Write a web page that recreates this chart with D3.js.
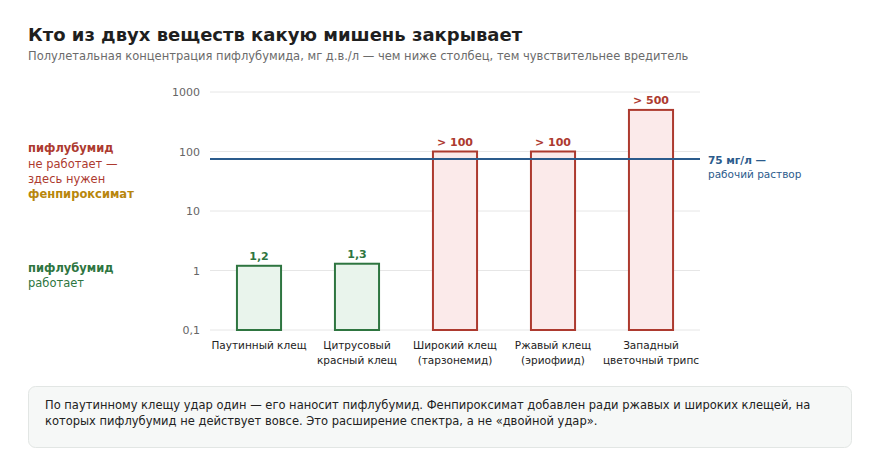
<!DOCTYPE html>
<html>
<head>
<meta charset="utf-8">
<script src="https://cdn.jsdelivr.net/npm/d3@7"></script>
<style>
  body { margin: 0; background: #fff; font-family: "DejaVu Sans", sans-serif; }
</style>
</head>
<body>
<div id="chart"></div>
<script>
// Data
const pests = [
  ["Паутинный клещ"],
  ["Цитрусовый", "красный клещ"],
  ["Широкий клещ", "(тарзонемид)"],
  ["Ржавый клещ", "(эриофиид)"],
  ["Западный", "цветочный трипс"]
];
const lc50 = [1.2, 1.3, 100, 100, 500];
const valueLabels = ["1,2", "1,3", "> 100", "> 100", "> 500"];
const works = [true, true, false, false, false];
const yTicks = [0.1, 1, 10, 100, 1000];
const yTickLabels = ["0,1", "1", "10", "100", "1000"];
const workingDose = 75;

const W = 880, H = 470;
const margin = { top: 92, right: 180, bottom: 140, left: 210 };
const width = W - margin.left - margin.right,
      height = H - margin.top - margin.bottom;

const green = "#2e7540", greenFill = "#e9f4ec";
const red = "#ad3a2f", redFill = "#fbeaea";
const blue = "#2b5b8c";
const gold = "#b8860b";

const svg = d3.select("#chart")
  .append("svg")
    .attr("width", W)
    .attr("height", H);

// Title
svg.append("text")
  .attr("x", 28).attr("y", 41)
  .style("font-size", "18px").style("font-weight", "bold")
  .attr("fill", "#1f1f1f")
  .text("Кто из двух веществ какую мишень закрывает");

svg.append("text")
  .attr("x", 28).attr("y", 60)
  .style("font-size", "11.5px")
  .attr("fill", "#6b6b6b")
  .text("Полулетальная концентрация пифлубумида, мг д.в./л — чем ниже столбец, тем чувствительнее вредитель");

const g = svg.append("g")
  .attr("transform", `translate(${margin.left},${margin.top})`);

// Scales
const x = d3.scaleBand()
  .domain(d3.range(pests.length))
  .range([0, width])
  .paddingInner(0.55)
  .paddingOuter(0.275);

const y = d3.scaleLog()
  .domain([0.1, 1000])
  .range([height, 0]);

// Grid
g.selectAll(".grid")
  .data(yTicks)
  .enter().append("line")
    .attr("x1", 0).attr("x2", width)
    .attr("y1", d => y(d)).attr("y2", d => y(d))
    .attr("stroke", "#e6e6e6")
    .attr("stroke-width", 1);

// Y axis
const yAxis = g.append("g")
  .call(d3.axisLeft(y).tickValues(yTicks).tickFormat((d, i) => yTickLabels[i]).tickSize(0).tickPadding(10));
yAxis.select(".domain").remove();
yAxis.selectAll("text")
  .style("font-family", "DejaVu Sans, sans-serif")
  .style("font-size", "11px")
  .attr("fill", "#666");

// Bars
g.selectAll(".bar")
  .data(lc50)
  .enter().append("rect")
    .attr("x", (d, i) => x(i))
    .attr("y", d => y(d))
    .attr("width", x.bandwidth())
    .attr("height", d => y(0.1) - y(d))
    .attr("fill", (d, i) => works[i] ? greenFill : redFill)
    .attr("stroke", (d, i) => works[i] ? green : red)
    .attr("stroke-width", 2);

// Value labels
g.selectAll(".val")
  .data(lc50)
  .enter().append("text")
    .attr("x", (d, i) => x(i) + x.bandwidth() / 2)
    .attr("y", d => y(d) - 6)
    .attr("text-anchor", "middle")
    .style("font-size", "11px").style("font-weight", "bold")
    .attr("fill", (d, i) => works[i] ? green : red)
    .text((d, i) => valueLabels[i]);

// Category labels
const cat = g.selectAll(".cat")
  .data(pests)
  .enter().append("text")
    .attr("x", (d, i) => x(i) + x.bandwidth() / 2)
    .attr("y", height + 19)
    .attr("text-anchor", "middle")
    .style("font-size", "10.5px")
    .attr("fill", "#222");
cat.selectAll("tspan")
  .data(d => d)
  .enter().append("tspan")
    .attr("x", function() { return d3.select(this.parentNode).attr("x"); })
    .attr("dy", (d, i) => i === 0 ? 0 : 15)
    .text(d => d);

// Working dose line
g.append("line")
  .attr("x1", 0).attr("x2", width)
  .attr("y1", y(workingDose)).attr("y2", y(workingDose))
  .attr("stroke", blue)
  .attr("stroke-width", 2);

g.append("text")
  .attr("x", width + 8).attr("y", y(workingDose) + 5)
  .style("font-size", "10.5px").style("font-weight", "bold")
  .attr("fill", blue)
  .text("75 мг/л —");
g.append("text")
  .attr("x", width + 8).attr("y", y(workingDose) + 19)
  .style("font-size", "10.5px")
  .attr("fill", blue)
  .text("рабочий раствор");

// Left annotations
const ann = svg.append("g").style("font-size", "11.5px");
ann.append("text").attr("x", 28).attr("y", 152)
  .style("font-weight", "bold").attr("fill", red).text("пифлубумид");
ann.append("text").attr("x", 28).attr("y", 168)
  .attr("fill", red).text("не работает —");
ann.append("text").attr("x", 28).attr("y", 183)
  .attr("fill", red).text("здесь нужен");
ann.append("text").attr("x", 28).attr("y", 198)
  .style("font-weight", "bold").attr("fill", gold).text("фенпироксимат");

ann.append("text").attr("x", 28).attr("y", 272)
  .style("font-weight", "bold").attr("fill", green).text("пифлубумид");
ann.append("text").attr("x", 28).attr("y", 287)
  .attr("fill", green).text("работает");

// Note box
svg.append("rect")
  .attr("x", 28.5).attr("y", 386.5)
  .attr("width", 823).attr("height", 61)
  .attr("rx", 7)
  .attr("fill", "#f6f8f7")
  .attr("stroke", "#e2e6e4");

const note = svg.append("text")
  .style("font-size", "11.5px")
  .attr("fill", "#222");
note.append("tspan").attr("x", 45).attr("y", 409)
  .text("По паутинному клещу удар один — его наносит пифлубумид. Фенпироксимат добавлен ради ржавых и широких клещей, на");
note.append("tspan").attr("x", 45).attr("y", 425)
  .text("которых пифлубумид не действует вовсе. Это расширение спектра, а не «двойной удар».");
</script>
</body>
</html>
